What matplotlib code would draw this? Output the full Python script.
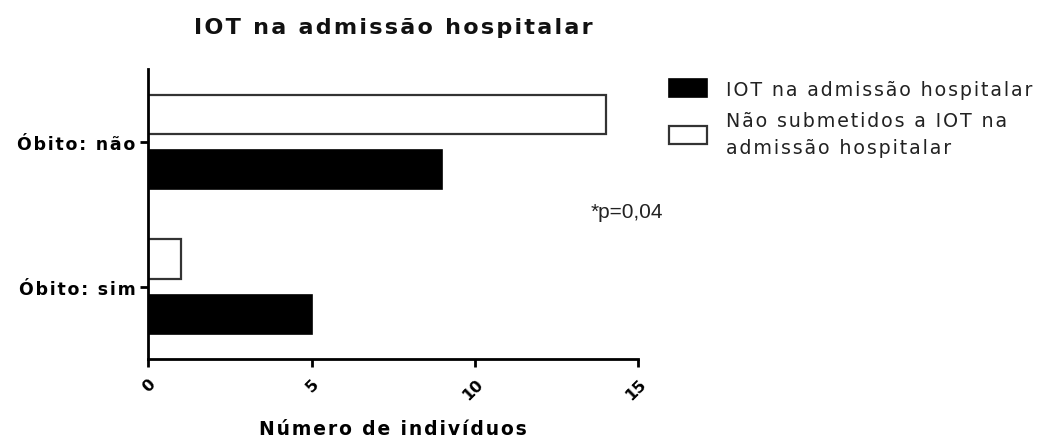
import matplotlib
matplotlib.use("Agg")
import matplotlib.pyplot as plt
import numpy as np

categories = ["Óbito: sim", "Óbito: não"]
iot_admissao = [5, 9]
sem_iot = [1, 14]
series_labels = ["IOT na admissão hospitalar",
                 "Não submetidos a IOT na\nadmissão hospitalar"]
x_ticks = [0, 5, 10, 15]
title = "IOT na admissão hospitalar"
x_label = "Número de indivíduos"
p_note = "*p=0,04"

plt.rcParams["font.family"] = ["DejaVu Sans"]


def tracked(s, gap="\u200a"):
    """Open up letter spacing by inserting hair spaces between characters."""
    return "\n".join(gap.join(line) for line in s.split("\n"))


fig = plt.figure(figsize=(10.5, 4.39), dpi=100)
ax = fig.add_axes([0.141, 0.18, 0.467, 0.66])

y = np.arange(len(categories))
off = 0.19
h = 0.27
b1 = ax.barh(y - off, iot_admissao, height=h, color="black", edgecolor="black", linewidth=1.2)
b2 = ax.barh(y + off, sem_iot, height=h, color="white", edgecolor="#333333", linewidth=1.6)

ax.set_xlim(0, 15)
ax.set_ylim(-0.5, 1.5)
ax.set_xticks(x_ticks)
ax.set_xticklabels([str(t) for t in x_ticks], rotation=45, ha="right",
                   rotation_mode="anchor", fontweight="bold", fontsize=11.5)
ax.set_yticks(y)
ax.set_yticklabels([tracked(c) for c in categories], fontweight="bold", fontsize=12.5)
ax.tick_params(axis="both", length=6, width=2, color="black", pad=3)
ax.tick_params(axis="x", pad=6)

for s in ["top", "right"]:
    ax.spines[s].set_visible(False)
for s in ["left", "bottom"]:
    ax.spines[s].set_linewidth(2)

ax.set_xlabel(tracked(x_label), fontweight="bold", fontsize=13.5, labelpad=12)
ax.set_title(tracked(title), fontsize=16, fontweight="bold", pad=26, color="#111111")

ax.text(13.55, 0.52, p_note, fontsize=15, family="Liberation Sans", color="#222222",
        va="center")

leg = fig.legend([b1, b2], [tracked(s) for s in series_labels], loc="upper left",
                 bbox_to_anchor=(0.630, 0.834), frameon=False, fontsize=13.7,
                 handlelength=2.0, handleheight=1.0, handletextpad=1.0,
                 labelspacing=0.65, borderaxespad=0, labelcolor="#222222")
for t in leg.get_texts():
    t.set_linespacing(1.55)

fig.savefig("out.png", dpi=100)
